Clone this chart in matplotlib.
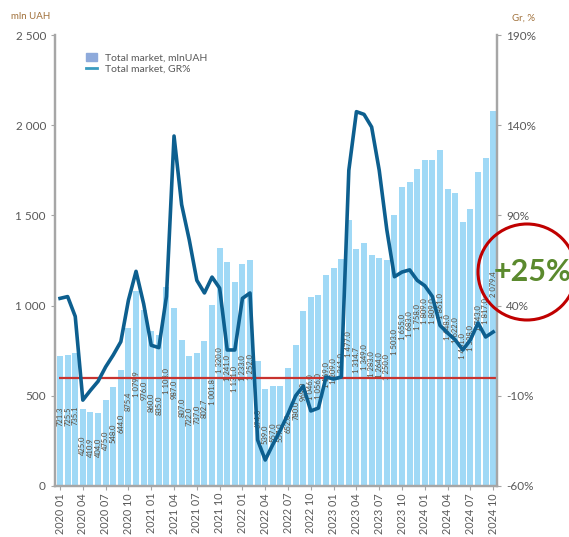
import matplotlib.pyplot as plt
from matplotlib.patches import Ellipse, Patch
from matplotlib.lines import Line2D

plt.rcParams['font.family'] = ['Lato', 'DejaVu Sans']

# months 2020 01 .. 2024 10
months = [f"{y} {m:02d}" for y in range(2020, 2025) for m in range(1, 13)][:58]

# total market, mln UAH
market = [721.3, 725.5, 735.1, 425.0, 410.9, 404.0, 475.0, 548.0, 644.0, 875.4,
          1079.9, 976.0, 860.0, 835.0, 1103.0, 987.0, 807.0, 722.0, 737.0, 802.7,
          1001.8, 1320.0, 1241.0, 1131.0, 1233.0, 1252.0, 694.0, 539.0, 557.0, 557.0,
          652.0, 780.0, 969.0, 1046.0, 1056.0, 1169.0, 1209.0, 1261.0, 1477.0, 1314.7,
          1349.0, 1283.0, 1264.0, 1250.0, 1503.0, 1655.0, 1683.0, 1758.0, 1809.0, 1809.0,
          1861.0, 1648.0, 1622.0, 1461.0, 1538.0, 1743.0, 1817.0, 2079.4]

# growth rate, %
growth = [44, 45, 34, -12.4, -7, -2, 6, 12.6, 20, 43,
          59, 41, 18, 16.7, 45, 134, 96, 76.5, 54, 47,
          55.8, 49.7, 15.4, 15.4, 44, 47, -34.5, -45.6, -37, -29,
          -20, -10, -4.6, -18.4, -16.8, 0.4, -0.7, 0.4, 115, 147.5,
          146, 139, 115, 82, 56, 58.6, 59.8, 54, 51, 45,
          29, 24.8, 21, 15.4, 21, 30.4, 22.6, 25.4]

x = list(range(len(months)))

fig = plt.figure(figsize=(5.69, 5.37), dpi=100)
ax = fig.add_axes([0.0967, 0.095, 0.7768, 0.8398])
ax2 = ax.twinx()

ax.bar(x, market, width=0.8, color='#a0d9f6', zorder=2)

# data labels (rotated, as they sit in the original)
for i, v in enumerate(market):
    s = f"{v:,.1f}".replace(",", " ")
    ax.text(i, 44 + 0.55 * v, s, rotation=90, ha='center', va='top',
            fontsize=5.5, color='#5a4a3a', zorder=3)

ax.hlines(600, -0.2, 57.4, color='#c8332f', lw=1.6, zorder=4)

ax.set_xlim(-0.66, 57.5)
ax.set_ylim(0, 2500)
ax.set_yticks([0, 500, 1000, 1500, 2000, 2500])
ax.set_yticklabels(['0', '500', '1 000', '1 500', '2 000', '2 500'])
ax.set_xticks(x[::3])
ax.set_xticklabels(months[::3], rotation=90)

ax2.plot(x, growth, color='#0d5f8f', lw=2.6, zorder=5)
ax2.set_ylim(-60, 190)
ax2.set_yticks([-60, -10, 40, 90, 140, 190])
ax2.set_yticklabels(['-60%', '-10%', '40%', '90%', '140%', '190%'])
ax2.set_xlim(-0.66, 57.5)

for a in (ax, ax2):
    a.spines['top'].set_visible(False)
    for side in ('left', 'right', 'bottom'):
        a.spines[side].set_color('#a6a6a6')
        a.spines[side].set_linewidth(1.6)
    a.tick_params(colors='#a6a6a6', labelcolor='#595959', labelsize=8.5, length=3)
ax.tick_params(axis='x', length=3, labelsize=7.8, pad=2)

fig.text(0.02, 0.965, 'mln UAH', fontsize=7, color='#a0703a')
fig.text(0.9, 0.962, 'Gr, %', fontsize=7, color='#a0703a')

handles = [Patch(color='#8eaadb'), Line2D([0], [0], color='#3a9cc0', lw=2)]
ax.legend(handles, ['Total market, mlnUAH', 'Total market, GR%'], loc='upper left',
          bbox_to_anchor=(0.05, 0.98), frameon=False, fontsize=7.5,
          labelcolor='#595959', handlelength=1.0, handletextpad=0.8, labelspacing=0.2)

# highlight circle
fig.patches.append(Ellipse((527 / 569, 1 - 272 / 537), 98 / 569, 96 / 537,
                           transform=fig.transFigure, fill=False, ec='#c00000', lw=2.2))
fig.text(533 / 569, 1 - 272 / 537, '+25%', ha='center', va='center', fontsize=22,
         fontweight='bold', color='#5b8a2e')

fig.savefig('out.png', dpi=100)
